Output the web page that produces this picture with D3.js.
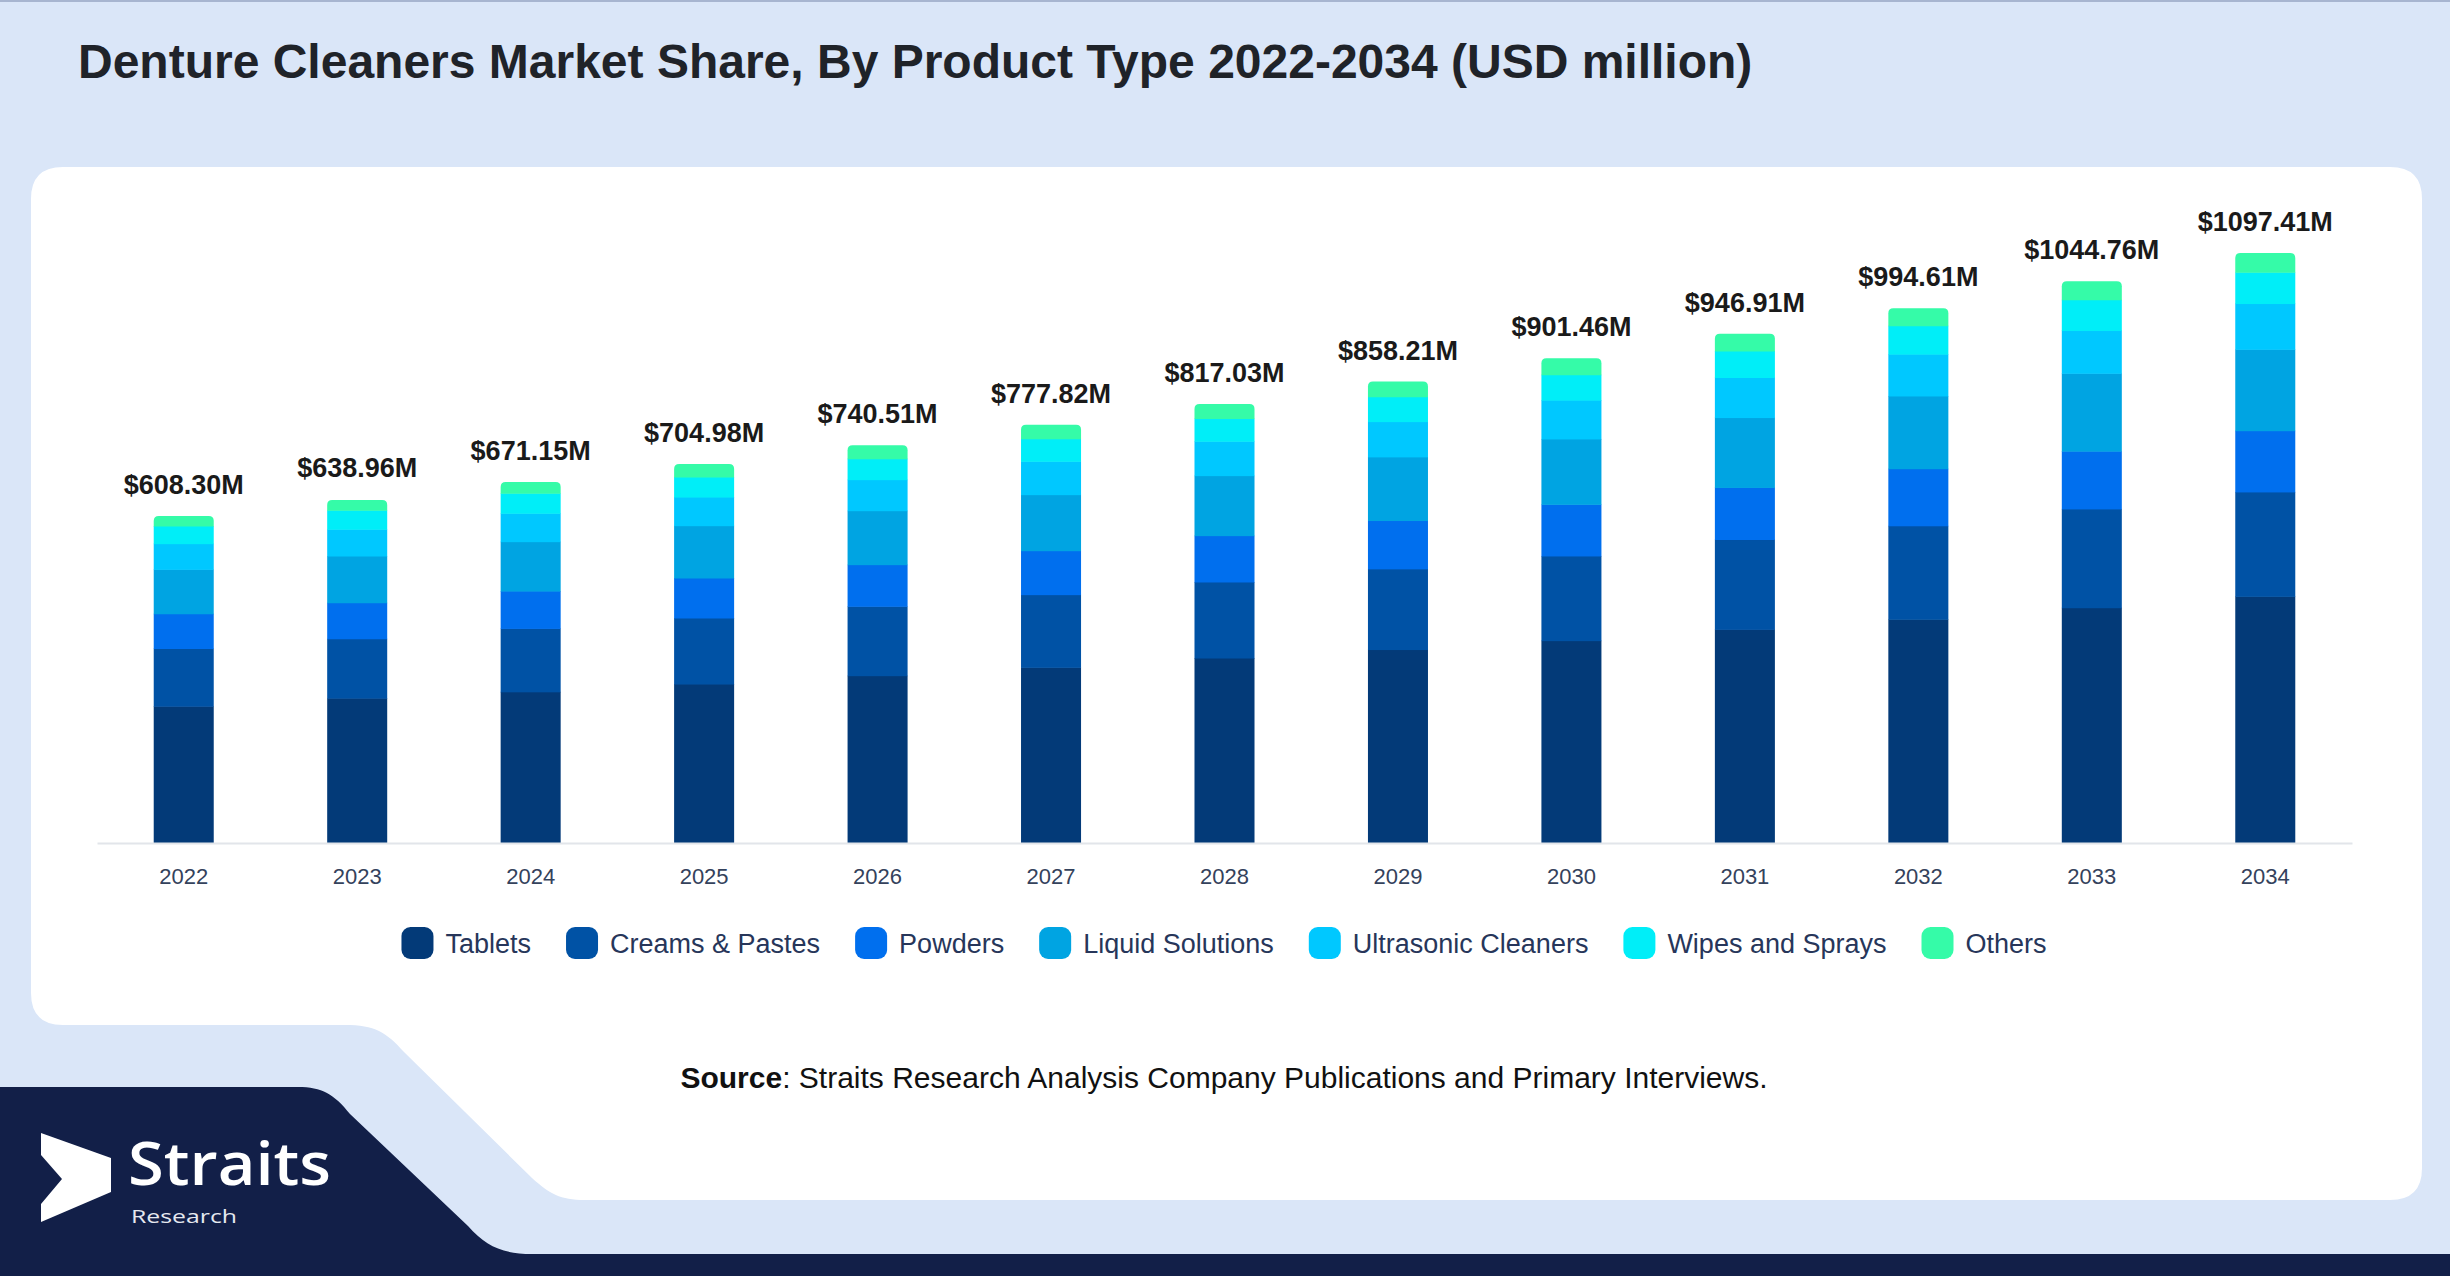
<!DOCTYPE html>
<html>
<head>
<meta charset="utf-8">
<script src="https://cdn.jsdelivr.net/npm/d3@7"></script>
<style>
body { margin: 0; background: #dae6f8; }
svg { display: block; }
text { font-family: "Liberation Sans", Arial, sans-serif; }
</style>
</head>
<body>
<svg id="chart" width="2450" height="1276"></svg>
<script>
// values in USD million
var years = ["2022","2023","2024","2025","2026","2027","2028","2029","2030","2031","2032","2033","2034"];
var tablets    = [254.4, 269.4, 281.2, 295.7, 311.2, 326.7, 344.1, 359.8, 376.4, 397.3, 416.1, 437.6, 458.7];
var creams     = [107.4, 110.5, 117.9, 122.8, 129.0, 135.2, 141.4, 150.1, 157.5, 167.2, 173.9, 183.8, 194.3];
var powders    = [64.6, 67.0, 69.5, 74.4, 77.5, 81.8, 86.2, 89.9, 96.0, 96.8, 106.2, 107.4, 113.9];
var liquid     = [82.5, 86.9, 91.9, 97.3, 100.4, 104.2, 111.6, 118.4, 121.6, 130.0, 135.3, 144.8, 151.3];
var ultrasonic = [47.9, 49.7, 52.8, 53.3, 57.7, 62.0, 63.9, 65.6, 72.3, 74.5, 77.8, 79.6, 85.2];
var wipes      = [32.8, 35.4, 37.2, 37.2, 39.1, 42.2, 42.2, 46.0, 47.3, 49.4, 52.8, 57.3, 58.1];
var others     = [18.6, 19.2, 21.1, 24.3, 24.8, 26.0, 27.3, 28.4, 30.4, 31.8, 32.5, 34.2, 35.8];
var totals     = [608.30, 638.96, 671.15, 704.98, 740.51, 777.82, 817.03, 858.21, 901.46, 946.91, 994.61, 1044.76, 1097.41];

var seriesNames = ["Tablets","Creams & Pastes","Powders","Liquid Solutions","Ultrasonic Cleaners","Wipes and Sprays","Others"];
var seriesColors = ["#033a78","#0052a5","#006fee","#00a4e2","#00c8ff","#00eef8","#35fba8"];

var svg = d3.select("#chart");

// background pieces
svg.append("rect").attr("width",2450).attr("height",1276).attr("fill","#dae6f8");
svg.append("rect").attr("width",2450).attr("height",2).attr("fill","#a7b5d0");

svg.append("path")
    .attr("d","M0,1087 H298 C322,1087 334,1094 350,1114 L468,1226 C486,1246 502,1254 532,1254 H2450 V1276 H0 Z")
    .attr("fill","#121f48");

svg.append("path")
    .attr("d","M63,167 H2390 Q2422,167 2422,199 V1168 Q2422,1200 2390,1200 H585 C560,1200 550,1194 532,1178 L404,1052 C386,1032 375,1025 345,1025 H63 Q31,1025 31,993 V199 Q31,167 63,167 Z")
    .attr("fill","#ffffff");

// title
svg.append("text")
    .attr("x",78).attr("y",78)
    .attr("font-size","48px").attr("font-weight","bold")
    .attr("fill","#1f2329")
    .text("Denture Cleaners Market Share, By Product Type 2022-2034 (USD million)");

// build table for the stack
var table = years.map(function(y,i){
    return {
        year: y,
        "Tablets": tablets[i],
        "Creams & Pastes": creams[i],
        "Powders": powders[i],
        "Liquid Solutions": liquid[i],
        "Ultrasonic Cleaners": ultrasonic[i],
        "Wipes and Sprays": wipes[i],
        "Others": others[i]
    };
});

var x = d3.scaleBand().domain(years).range([97,2352]).paddingInner(0.654).paddingOuter(0.327);
var y = d3.scaleLinear().domain([0,1100]).range([843,251.6]);
var color = d3.scaleOrdinal().domain(seriesNames).range(seriesColors);

var stacked = d3.stack().keys(seriesNames)(table);

var layers = svg.append("g").selectAll("g")
    .data(stacked)
    .enter().append("g")
    .attr("fill",function(d){ return color(d.key); });

layers.each(function(layer,li){
    var g = d3.select(this);
    if(li < stacked.length-1){
        g.selectAll("rect").data(layer).enter().append("rect")
            .attr("x",function(d){ return x(d.data.year); })
            .attr("y",function(d){ return y(d[1]); })
            .attr("width",x.bandwidth())
            .attr("height",function(d){ return y(d[0]) - y(d[1]) + 0.5; });
    }
    else{
        // top segment with rounded top corners
        g.selectAll("path").data(layer).enter().append("path")
            .attr("d",function(d){
                var x0 = x(d.data.year), w = x.bandwidth();
                var yt = y(d[1]), yb = y(d[0]) + 0.5, r = 5;
                return "M"+x0+","+yb+" V"+(yt+r)+" Q"+x0+","+yt+" "+(x0+r)+","+yt+
                    " H"+(x0+w-r)+" Q"+(x0+w)+","+yt+" "+(x0+w)+","+(yt+r)+" V"+yb+" Z";
            });
    }
});

// total labels
svg.append("g").selectAll("text")
    .data(years)
    .enter().append("text")
    .attr("x",function(d){ return x(d) + x.bandwidth()/2; })
    .attr("y",function(d,i){ return y(totals[i]) - 22; })
    .attr("text-anchor","middle")
    .attr("font-size","27px").attr("font-weight","bold")
    .attr("fill","#1a1a1a")
    .text(function(d,i){ return "$" + totals[i].toFixed(2) + "M"; });

// x axis
var xAxis = svg.append("g")
    .attr("transform","translate(0,843)")
    .call(d3.axisBottom(x).tickSize(0).tickPadding(25));
xAxis.select(".domain").attr("stroke","#e2e5ea").attr("stroke-width",2);
xAxis.selectAll("text")
    .attr("font-size","22px")
    .attr("fill","#34425c")
    .style("font-family","'Liberation Sans', Arial, sans-serif");

// legend
var legend = svg.append("g");
var items = legend.selectAll("g").data(seriesNames).enter().append("g");
items.append("rect")
    .attr("width",32).attr("height",32).attr("rx",9)
    .attr("y",-16)
    .attr("fill",function(d){ return color(d); });
items.append("text")
    .attr("x",44).attr("y",10)
    .attr("font-size","27px")
    .attr("fill","#27365a")
    .text(function(d){ return d; });

var offsets = [], cur = 0;
items.each(function(d,i){
    offsets.push(cur);
    var w = 44 + this.querySelector("text").getComputedTextLength();
    cur += w + (i < seriesNames.length-1 ? 35 : 0);
});
var legendStart = 1224 - cur/2;
items.attr("transform",function(d,i){ return "translate("+(legendStart+offsets[i])+",943)"; });

// source
var src = svg.append("text")
    .attr("x",1224).attr("y",1088)
    .attr("text-anchor","middle")
    .attr("font-size","30px")
    .attr("fill","#111111");
src.append("tspan").attr("font-weight","bold").text("Source");
src.append("tspan").text(": Straits Research Analysis Company Publications and Primary Interviews.");

// logo
var logo = svg.append("g");
logo.append("path")
    .attr("d","M41,1133 L111,1158 L111,1192 L41,1222 L41,1204 L62,1179 L41,1155 Z")
    .attr("fill","#ffffff");
logo.append("text")
    .attr("x",128).attr("y",1185)
    .attr("font-size","60px").attr("font-weight","600")
    .attr("textLength",203).attr("lengthAdjust","spacingAndGlyphs")
    .style("font-family","'Open Sans', sans-serif")
    .attr("fill","#ffffff")
    .text("Straits");
logo.append("text")
    .attr("x",131).attr("y",1223)
    .attr("font-size","19px")
    .attr("textLength",106).attr("lengthAdjust","spacingAndGlyphs")
    .style("font-family","'Open Sans', sans-serif")
    .attr("fill","#e6e9f0")
    .text("Research");
</script>
</body>
</html>
